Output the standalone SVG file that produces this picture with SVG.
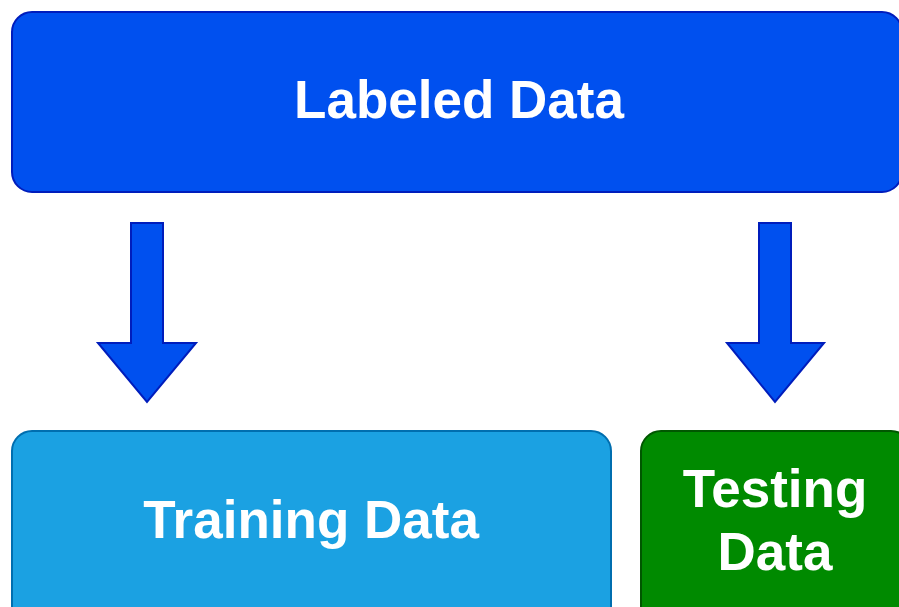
<svg xmlns="http://www.w3.org/2000/svg" width="899" height="607" viewBox="0 0 899 607">
  <style>
    .box { stroke-width: 2; }
    .blue { fill: #0050ef; stroke: #001dbc; }
    .sky { fill: #1ba1e2; stroke: #006eaf; }
    .green { fill: #008a00; stroke: #005700; }
    .label { font-family: "Liberation Sans", Arial, sans-serif; font-weight: bold; font-size: 53px; fill: #ffffff; text-anchor: middle; }
  </style>
  <rect width="899" height="607" fill="#ffffff"/>

  <g id="labeled-data">
    <rect class="box blue" x="12" y="12" width="890" height="180" rx="20" ry="20"/>
    <text class="label" x="459" y="118">Labeled Data</text>
  </g>

  <g id="connectors">
    <path class="box blue" d="M131,223 H163 V343 H196 L147,402 L98,343 H131 Z"/>
    <path class="box blue" d="M759,223 H791 V343 H824 L775,402 L727,343 H759 Z"/>
  </g>

  <g id="training-data">
    <rect class="box sky" x="12" y="431" width="599" height="200" rx="20" ry="20"/>
    <text class="label" x="311" y="538">Training Data</text>
  </g>

  <g id="testing-data">
    <rect class="box green" x="641" y="431" width="270" height="200" rx="20" ry="20"/>
    <text class="label" x="775" y="507">Testing</text>
    <text class="label" x="775" y="570">Data</text>
  </g>
</svg>
